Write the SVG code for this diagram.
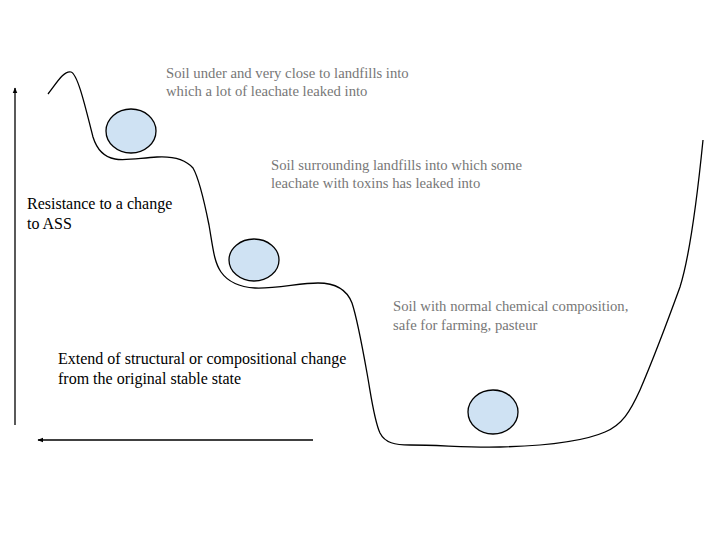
<svg xmlns="http://www.w3.org/2000/svg" width="720" height="540" viewBox="0 0 720 540">
<style>
.g{font-family:"Liberation Serif","Times New Roman",serif;font-size:14.7px;fill:#777}
.b{font-family:"Liberation Serif","Times New Roman",serif;font-size:16px;fill:#000}
.ball{fill:#cfe2f3;stroke:#000;stroke-width:1.3}
.ax{stroke:#000;stroke-width:1.3;fill:none}
</style>
<defs>
<marker id="ah" viewBox="0 0 10 10" refX="9" refY="5" markerWidth="6" markerHeight="6" orient="auto" markerUnits="userSpaceOnUse">
<path d="M0,1 L10,5 L0,9 z" fill="#000"/>
</marker>
</defs>
<rect width="720" height="540" fill="#fff"/>
<g id="connectors">
<path id="landscape" d="M48,94 C56,84 64,70 71,72 C78,74 86,110 93,137 C97,150 104,157 115,159 C125,161 140,158 157,157 C175,156 186,160 193,168 C200,180 205,205 209,225 C213,248 214,262 221,272 C228,282 240,287 255,288 C275,289 300,283 318,283 C335,283 347,290 352,303 C357,318 362,345 367,373 C371,395 374,420 380,433 C385,443 395,445 410,445 C440,445 470,448 500,447 C540,446 580,443 605,432 C622,425 630,412 640,390 C652,362 668,320 680,287 C690,255 698,190 703,140" fill="none" stroke="#000" stroke-width="1.3"/>
<line class="ax" x1="15" y1="425" x2="15" y2="88" marker-end="url(#ah)"/>
<line class="ax" x1="313" y1="440" x2="38" y2="440" marker-end="url(#ah)"/>
</g>
<g id="ball1"><ellipse class="ball" cx="131" cy="131" rx="25" ry="22"/></g>
<g id="ball2"><ellipse class="ball" cx="254" cy="260" rx="25" ry="21"/></g>
<g id="ball3"><ellipse class="ball" cx="493" cy="412" rx="25" ry="22"/></g>
<g id="label1"><text class="g" x="166" y="78">Soil under and very close to landfills into</text><text class="g" x="166" y="96">which a lot of leachate leaked into</text></g>
<g id="label2"><text class="g" x="271" y="170">Soil surrounding landfills into which some</text><text class="g" x="271" y="188">leachate with toxins has leaked into</text></g>
<g id="label3"><text class="g" x="393" y="311">Soil with normal chemical composition,</text><text class="g" x="393" y="330">safe for farming, pasteur</text></g>
<g id="yaxis-label"><text class="b" x="27" y="209">Resistance to a change</text><text class="b" x="27" y="229">to ASS</text></g>
<g id="xaxis-label"><text class="b" x="58" y="364">Extend of structural or compositional change</text><text class="b" x="58" y="384">from the original stable state</text></g>
</svg>
